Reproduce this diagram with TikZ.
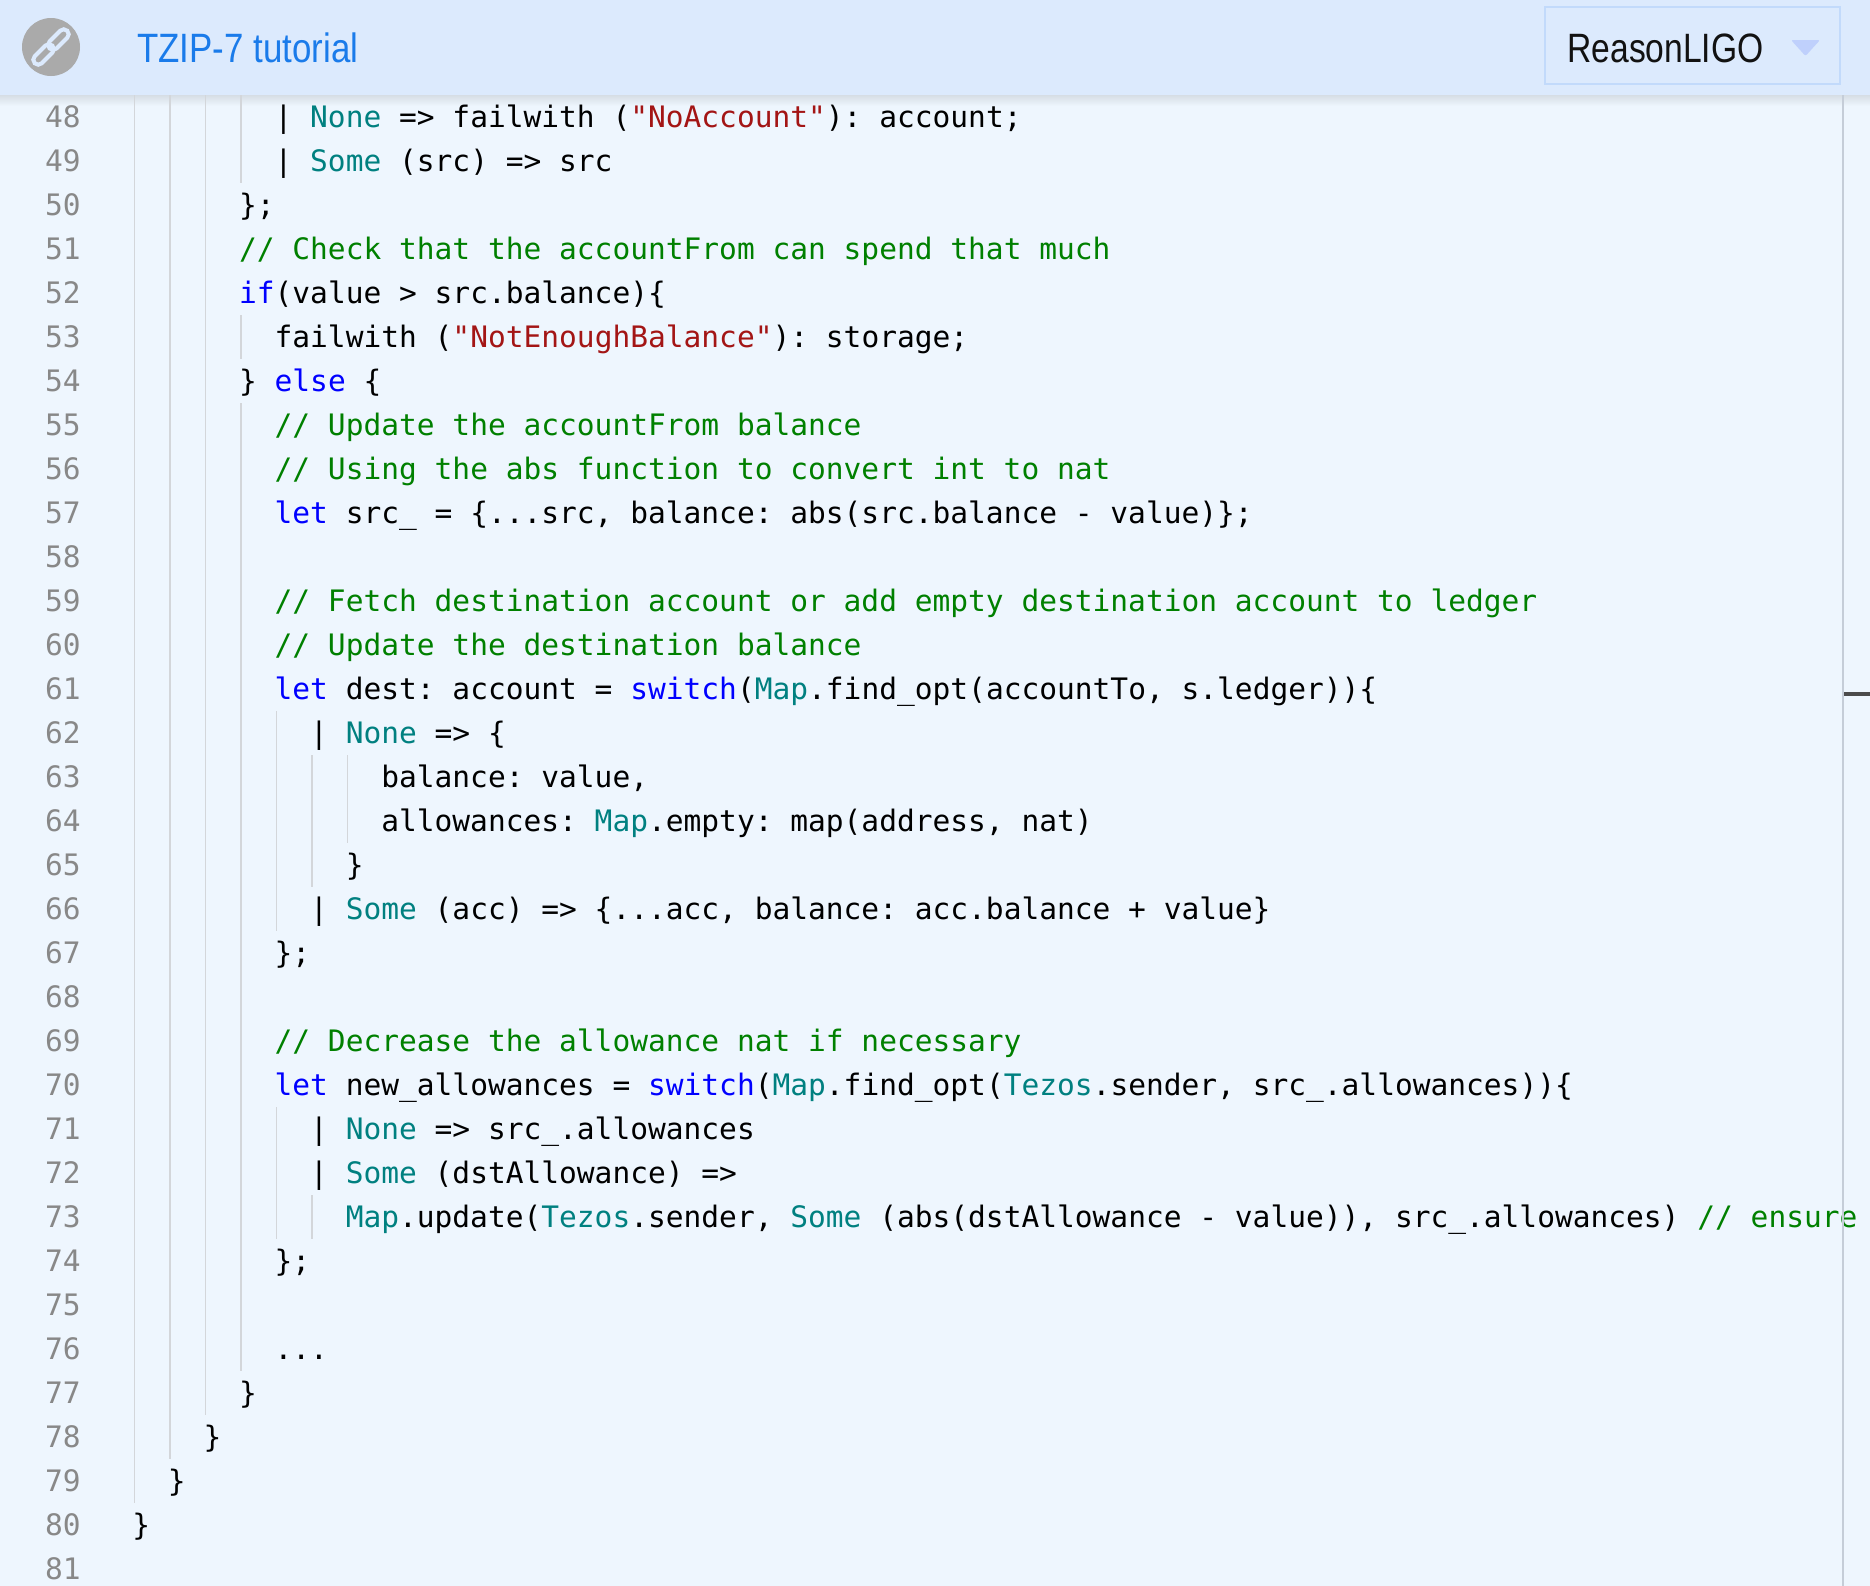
\documentclass[tikz,border=0pt]{standalone}
\usepackage{fontspec}
\setmonofont{DejaVu Sans Mono}
\newfontfamily\headfont[FakeStretch=0.85]{Liberation Sans}
\newfontfamily\langfont[FakeStretch=0.82]{Liberation Sans}
\usepackage{xcolor}
\usepackage{tikz}
\usetikzlibrary{calc}

\definecolor{bodybg}{HTML}{EEF6FE}
\definecolor{headbg}{HTML}{DCEAFD}
\definecolor{boxline}{HTML}{C2DAFB}
\definecolor{titleblue}{HTML}{1A7BEA}
\definecolor{icongray}{HTML}{AAAAAA}
\definecolor{lnumgray}{HTML}{888888}
\definecolor{guidegray}{HTML}{D3D6DA}
\definecolor{sepgray}{HTML}{C5CDD8}
\definecolor{kwblue}{HTML}{0000FF}
\definecolor{tyteal}{HTML}{008080}
\definecolor{strred}{HTML}{A31515}
\definecolor{cmgreen}{HTML}{008000}

\newcommand{\kwd}[1]{\textcolor{kwblue}{#1}}
\newcommand{\typ}[1]{\textcolor{tyteal}{#1}}
\newcommand{\strg}[1]{\textcolor{strred}{#1}}
\newcommand{\cmt}[1]{\textcolor{cmgreen}{#1}}
\newcommand{\codefont}{\ttfamily\fontsize{14.77pt}{22pt}\selectfont}

\tikzset{
  code/.style={anchor=base west, inner sep=0, font=\codefont},
  lnum/.style={anchor=base east, inner sep=0, font=\codefont, text=lnumgray},
  guide/.style={guidegray, line width=0.8pt},
  link/.style={headbg, line width=2pt, rounded corners=2.5pt},
}

\begin{document}
\frenchspacing
\begin{tikzpicture}[x=0.5pt, y=-0.5pt]
\useasboundingbox (0,0) rectangle (1870,1586);
\fill[bodybg] (0,0) rectangle (1870,1586);
\shade[top color=black!10!bodybg, bottom color=bodybg] (0,95) rectangle (1870,106);

% indent guides
\foreach \c/\yt/\yb in {0/95/1503, 2/95/1459, 4/95/1415, 6/95/183, 6/315/359, 6/403/1371,
  8/711/931, 8/1107/1239, 10/755/887, 10/1195/1239, 12/755/843} {
  \draw[guide] ({134.3+\c*17.78},\yt) -- ({134.3+\c*17.78},\yb);
}

% line numbers
\foreach \n in {48,...,81} {
  \node[lnum] (n\n) at (81,{127+(\n-48)*44}) {\n};
}

% code
\node[code] (c48) at (274.24,127) {| \typ{None} => failwith (\strg{"NoAccount"}): account;};
\node[code] (c49) at (274.24,171) {| \typ{Some} (src) => src};
\node[code] (c50) at (238.68,215) {\};};
\node[code] (c51) at (238.68,259) {\cmt{// Check that the accountFrom can spend that much}};
\node[code] (c52) at (238.68,303) {\kwd{if}(value > src.balance)\{};
\node[code] (c53) at (274.24,347) {failwith (\strg{"NotEnoughBalance"}): storage;};
\node[code] (c54) at (238.68,391) {\} \kwd{else} \{};
\node[code] (c55) at (274.24,435) {\cmt{// Update the accountFrom balance}};
\node[code] (c56) at (274.24,479) {\cmt{// Using the abs function to convert int to nat}};
\node[code] (c57) at (274.24,523) {\kwd{let} src\_ = \{...src, balance: abs(src.balance - value)\};};
\node[code] (c59) at (274.24,611) {\cmt{// Fetch destination account or add empty destination account to ledger}};
\node[code] (c60) at (274.24,655) {\cmt{// Update the destination balance}};
\node[code] (c61) at (274.24,699) {\kwd{let} dest: account = \kwd{switch}(\typ{Map}.find\_opt(accountTo, s.ledger))\{};
\node[code] (c62) at (309.8,743) {| \typ{None} => \{};
\node[code] (c63) at (380.92,787) {balance: value,};
\node[code] (c64) at (380.92,831) {allowances: \typ{Map}.empty: map(address, nat)};
\node[code] (c65) at (345.36,875) {\}};
\node[code] (c66) at (309.8,919) {| \typ{Some} (acc) => \{...acc, balance: acc.balance + value\}};
\node[code] (c67) at (274.24,963) {\};};
\node[code] (c69) at (274.24,1051) {\cmt{// Decrease the allowance nat if necessary}};
\node[code] (c70) at (274.24,1095) {\kwd{let} new\_allowances = \kwd{switch}(\typ{Map}.find\_opt(\typ{Tezos}.sender, src\_.allowances))\{};
\node[code] (c71) at (309.8,1139) {| \typ{None} => src\_.allowances};
\node[code] (c72) at (309.8,1183) {| \typ{Some} (dstAllowance) =>};
\node[code] (c73) at (345.36,1227) {\typ{Map}.update(\typ{Tezos}.sender, \typ{Some} (abs(dstAllowance - value)), src\_.allowances) \cmt{// ensure}};
\node[code] (c74) at (274.24,1271) {\};};
\node[code] (c76) at (274.24,1359) {...};
\node[code] (c77) at (238.68,1403) {\}};
\node[code] (c78) at (203.12,1447) {\}};
\node[code] (c79) at (167.56,1491) {\}};
\node[code] (c80) at (132,1535) {\}};

% right edge and scroll mark
\draw[sepgray, line width=0.75pt] (1843,95) -- (1843,1586);
\fill[black!70] (1844,692) rectangle (1870,696);

% header bar
\fill[headbg] (0,0) rectangle (1870,95);
\fill[icongray] (51,47) circle (29);
\begin{scope}[shift={(51,47)}, rotate=45]
  \draw[link] (-23,-5) rectangle (2,5);
  \draw[link] (-2,-5) rectangle (23,5);
\end{scope}
\node[anchor=base west, inner sep=0, text=titleblue, font=\headfont\fontsize{20.5pt}{24pt}\selectfont] (title) at (137,62) {TZIP-7 tutorial};
\draw[boxline, fill=headbg, line width=0.75pt] (1545,7) rectangle (1840,84);
\node[anchor=base west, inner sep=0, text=black!93, font=\langfont\fontsize{20.5pt}{24pt}\selectfont] (lang) at (1567,62) {ReasonLIGO};
\fill[boxline!90!blue!80, rounded corners=1pt] (1791,40) -- (1820,40) -- (1805.5,56) -- cycle;
\end{tikzpicture}
\end{document}
